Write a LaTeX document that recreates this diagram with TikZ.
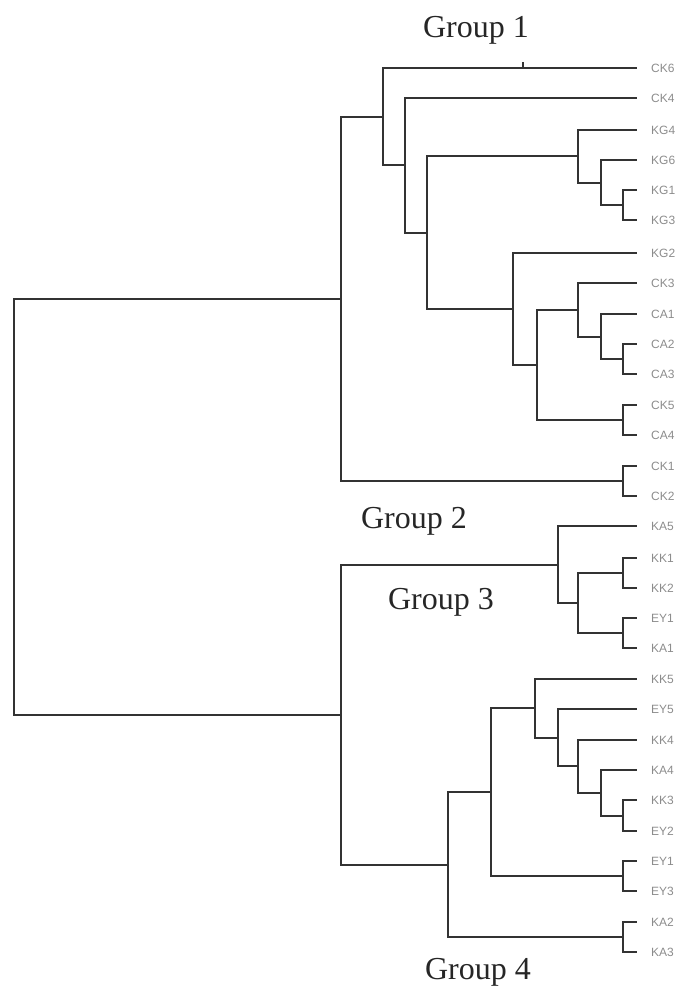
\documentclass[tikz,border=0pt]{standalone}
\usepackage{fontspec}
\setmainfont{Liberation Serif}
\newfontfamily\leaffont{Liberation Sans}
\tikzset{
  branch/.style={draw=black!80, line width=2.2pt},
  leaflab/.style={text=black!45, font=\leaffont\fontsize{12}{12}\selectfont, inner sep=0pt},
  grouplab/.style={font=\fontsize{32}{34}\selectfont, text=black!85, anchor=base}
}
\begin{document}
\begin{tikzpicture}[x=1pt, y=-1pt]
        % Page frame (labels run off the right edge)
        \clip (0,0) rectangle (678,988);

        % Leaves
        \foreach \name/\ypos/\lab in {l1/68/CK6, l2/98/CK4, l3/130/KG4, l4/160/KG6, l5/190/KG1,
            l6/220/KG3, l7/253/KG2, l8/283/CK3, l9/314/CA1, l10/344/CA2, l11/374/CA3,
            l12/405/CK5, l13/435/CA4, l14/466/CK1, l15/496/CK2, l16/526/KA5, l17/558/KK1,
            l18/588/KK2, l19/618/EY1, l20/648/KA1, l21/679/KK5, l22/709/EY5, l23/740/KK4,
            l24/770/KA4, l25/800/KK3, l26/831/EY2, l27/861/EY1, l28/891/EY3, l29/922/KA2,
            l30/952/KA3}
            \coordinate[label={[leaflab, label distance=14pt]right:\lab}] (\name) at (637,\ypos);

        % Inner nodes, upper cluster
        \coordinate (root) at (14,507);
        \coordinate (g1) at (341,299);
        \coordinate (b) at (383,117);
        \coordinate (c) at (405,165);
        \coordinate (d) at (427,233);
        \coordinate (e) at (578,156);
        \coordinate (e1) at (601,183);
        \coordinate (e2) at (623,205);
        \coordinate (f) at (513,309);
        \coordinate (h) at (537,365);
        \coordinate (i) at (578,310);
        \coordinate (i1) at (601,337);
        \coordinate (i2) at (623,359);
        \coordinate (j) at (623,420);
        \coordinate (k) at (623,481);

        % Inner nodes, lower cluster
        \coordinate (g2) at (341,715);
        \coordinate (p) at (558,565);
        \coordinate (p1) at (578,603);
        \coordinate (p2) at (623,573);
        \coordinate (p3) at (623,633);
        \coordinate (q) at (448,865);
        \coordinate (r) at (491,792);
        \coordinate (t) at (535,708);
        \coordinate (t1) at (558,738);
        \coordinate (t2) at (578,766);
        \coordinate (t3) at (601,793);
        \coordinate (t4) at (623,816);
        \coordinate (u) at (623,876);
        \coordinate (s) at (623,937);

        % Branches
        \foreach \up/\kid in {root/g1, root/g2,
            g1/b, g1/k, b/l1, b/c, c/l2, c/d, d/e, d/f,
            e/l3, e/e1, e1/l4, e1/e2, e2/l5, e2/l6,
            f/l7, f/h, h/i, h/j, i/l8, i/i1, i1/l9, i1/i2, i2/l10, i2/l11,
            j/l12, j/l13, k/l14, k/l15,
            g2/p, g2/q, p/l16, p/p1, p1/p2, p1/p3, p2/l17, p2/l18, p3/l19, p3/l20,
            q/r, q/s, r/t, r/u, t/l21, t/t1, t1/l22, t1/t2, t2/l23, t2/t3,
            t3/l24, t3/t4, t4/l25, t4/l26, u/l27, u/l28, s/l29, s/l30}
            \draw[branch] (\up) |- (\kid);

        % Small tick on the top branch
        \coordinate (tick) at (523,62);
        \draw[branch, line width=1.5pt] (tick) -- (tick |- l1);

        % Group labels
        \node[grouplab] (grp1) at (476,37) {Group 1};
        \node[grouplab] (grp2) at (414,528) {Group 2};
        \node[grouplab] (grp3) at (441,609) {Group 3};
        \node[grouplab] (grp4) at (478,979) {Group 4};
    \end{tikzpicture}
\end{document}
